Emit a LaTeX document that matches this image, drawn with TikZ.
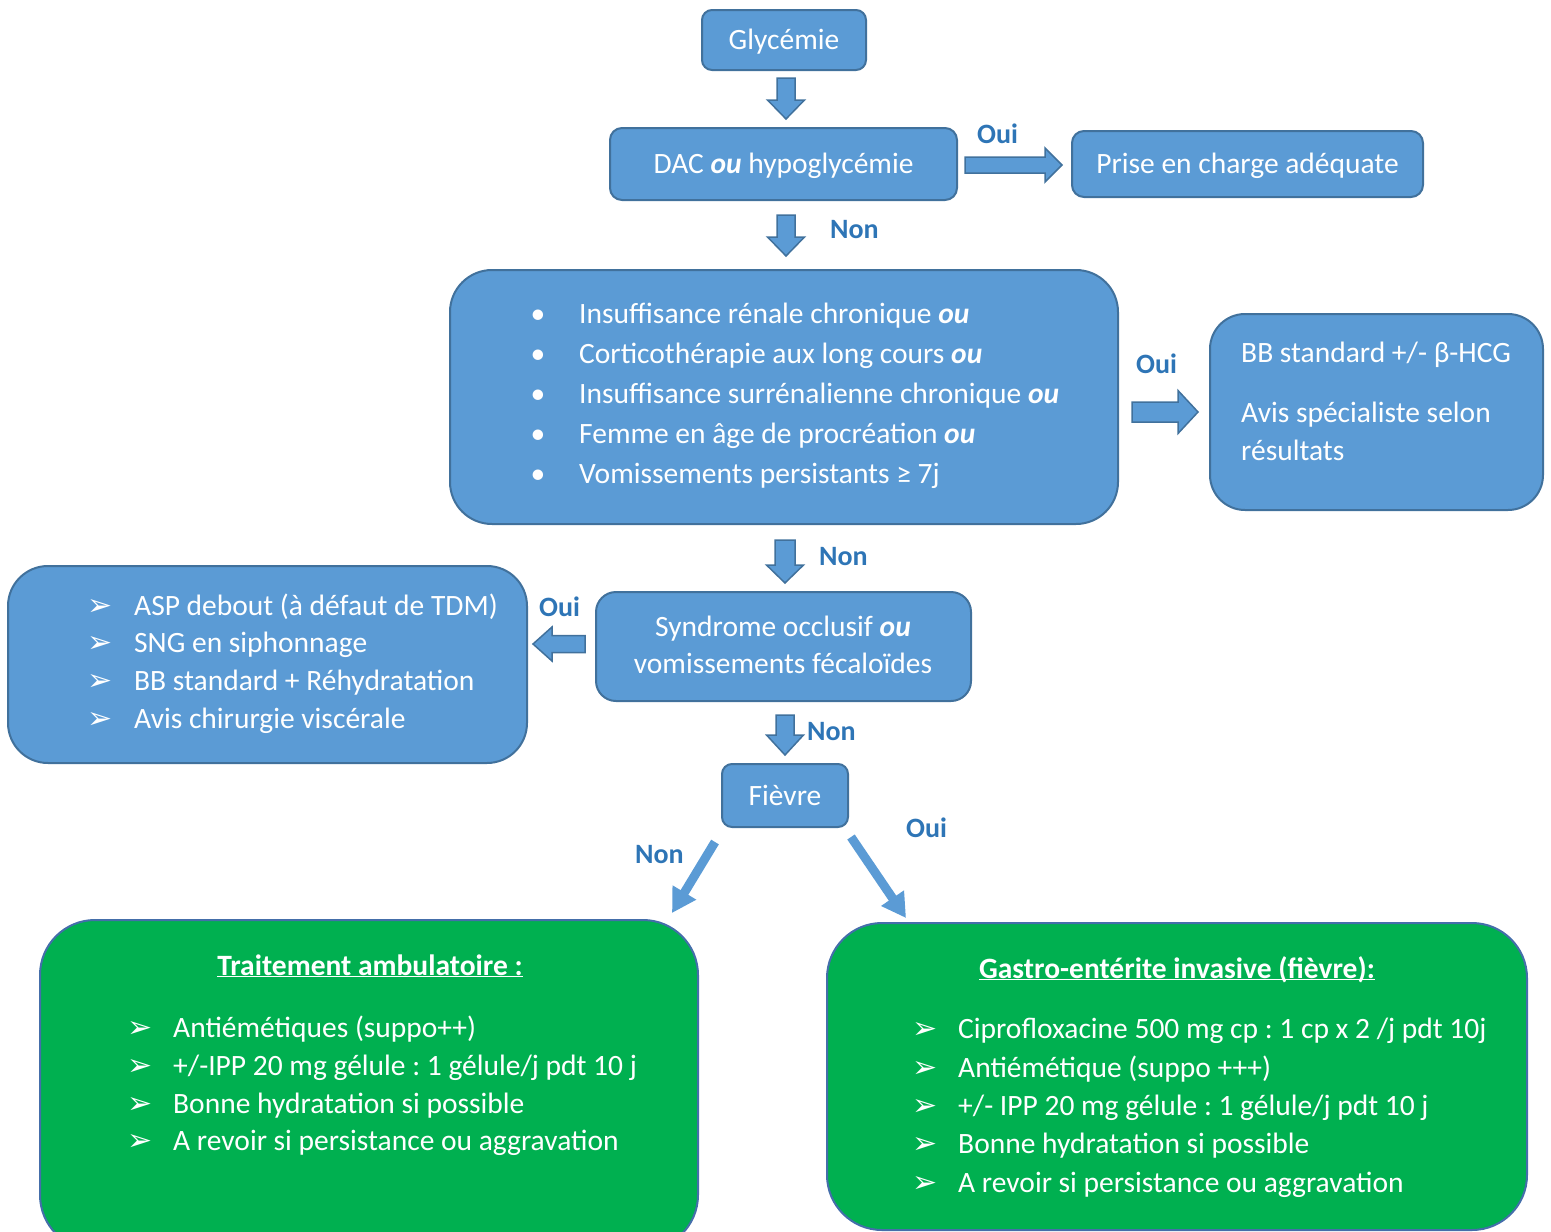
\documentclass[tikz,border=0pt]{standalone}
\usepackage{fontspec}
\setmainfont{Carlito}
\newfontfamily\dejavu{DejaVu Sans}
\usetikzlibrary{arrows.meta}
\definecolor{boxblue}{RGB}{91,155,213}
\definecolor{boxborder}{RGB}{65,113,156}
\definecolor{boxgreen}{RGB}{0,176,80}
\definecolor{greenborder}{RGB}{68,110,170}
\definecolor{lblblue}{RGB}{46,117,182}
\frenchspacing
\newcommand\mainsz{\fontsize{29.5}{35}\selectfont}
\newcommand\lblsz{\fontsize{28}{34}\selectfont\bfseries}
\newcommand\arrsz{\dejavu\fontsize{30}{34}\selectfont}
\newcommand\ouit{\textbf{\textit{ou}}}
\newcommand\ulbf[1]{\underline{\smash{\textbf{#1}}}}
\tikzset{
  pics/blk/.style args={#1/#2/#3/#4}{code={
    \path[blkarrow] (0,-#2) -- ({#1-#4},-#2) -- ({#1-#4},-#3) -- (#1,0)
      -- ({#1-#4},#3) -- ({#1-#4},#2) -- (0,#2) -- cycle;}},
}
\begin{document}
\begin{tikzpicture}[x=1pt,y=-1pt,
  bluebox/.style={draw=boxborder, fill=boxblue, line width=2pt, rounded corners=#1, inner sep=0pt, text=white, font=\mainsz, text height=25pt, text depth=6pt},
  bluebox/.default=10pt,
  greenbox/.style={draw=greenborder, fill=boxgreen, line width=2pt, rounded corners=55pt, inner sep=0pt},
  txt/.style={anchor=base west, inner sep=0pt, text=white, font=\mainsz},
  ctxt/.style={anchor=base, inner sep=0pt, text=white, font=\mainsz},
  lbl/.style={anchor=base west, inner sep=0pt, text=lblblue, font=\lblsz},
  mk/.style={anchor=base west, inner sep=0pt, text=white, font=\arrsz},
  blkarrow/.style={fill=boxblue, draw=boxborder, line width=1.5pt, line join=miter},
  thinarrow/.style={draw=boxblue, line width=9pt, -{Triangle[width=26pt,length=24pt]}},
]
\useasboundingbox (0,0) rectangle (1551,1232);
\clip (0,0) rectangle (1551,1232);

% boxes
\node[bluebox=10pt, minimum width=164pt, minimum height=60pt] (glyc) at (784,40) {Glycémie};
\node[bluebox=12pt, minimum width=347pt, minimum height=72pt] (dac) at (783.5,164) {DAC \ouit\ hypoglycémie};
\node[bluebox=12pt, minimum width=351pt, minimum height=66pt] (prise) at (1247.5,164) {Prise en charge adéquate};
\node[bluebox=42pt, minimum width=668pt, minimum height=254pt] (crit) at (784,397) {};
\node[bluebox=35pt, minimum width=333pt, minimum height=196pt] (bb) at (1376.5,412) {};
\node[bluebox=20pt, minimum width=375pt, minimum height=109pt] (synd) at (783.5,646.5) {};
\node[bluebox=40pt, minimum width=519pt, minimum height=197pt] (asp) at (267.5,664.5) {};
\node[bluebox=10pt, minimum width=126pt, minimum height=63pt] (fievre) at (785,795.5) {Fièvre};
\node[greenbox, minimum width=658pt, minimum height=330pt] (amb) at (369,1085) {};
\node[greenbox, minimum width=700pt, minimum height=307pt] (gastro) at (1177,1076.5) {};

% criteria list
\foreach \y/\t [count=\i] in {323/{Insuffisance rénale chronique \ouit},
  363/{Corticothérapie aux long cours \ouit},
  403/{Insuffisance surrénalienne chronique \ouit},
  443/{Femme en âge de procréation \ouit},
  483/{Vomissements persistants ≥ 7j}}{
  \node[ctxt] (cb\i) at (538,\y) {•};
  \node[txt] (ct\i) at (579,\y) {\t};
}

% BB box text
\node[txt] (bb1) at (1241,362) {BB standard +/- β-HCG};
\node[txt] (bb2) at (1241,422) {Avis spécialiste selon};
\node[txt] (bb3) at (1241,460) {résultats};

% syndrome text
\node[ctxt] (sy1) at (783,636) {Syndrome occlusif \ouit};
\node[ctxt] (sy2) at (783,673) {vomissements fécaloïdes};

% ASP list
\foreach \y/\t [count=\i] in {615/{ASP debout (à défaut de TDM)},
  652/{SNG en siphonnage},
  690/{BB standard + Réhydratation},
  728/{Avis chirurgie viscérale}}{
  \node[mk] (am\i) at (87,\y) {➢};
  \node[txt] (at\i) at (134,\y) {\t};
}

% green boxes text
\node[ctxt] (ambt) at (370,975) {\ulbf{Traitement ambulatoire :}};
\foreach \y/\t [count=\i] in {1037/{Antiémétiques (suppo++)},
  1075/{+/-IPP 20 mg gélule : 1 gélule/j pdt 10 j},
  1113/{Bonne hydratation si possible},
  1150/{A revoir si persistance ou aggravation}}{
  \node[mk] (bm\i) at (127,\y) {➢};
  \node[txt] (bt\i) at (173,\y) {\t};
}
\node[ctxt] (gast) at (1177,978) {\ulbf{Gastro-entérite invasive (fièvre):}};
\foreach \y/\t [count=\i] in {1038/{Ciprofloxacine 500 mg cp : 1 cp x 2 /j pdt 10j},
  1077/{Antiémétique (suppo +++)},
  1115/{+/- IPP 20 mg gélule : 1 gélule/j pdt 10 j},
  1153/{Bonne hydratation si possible},
  1192/{A revoir si persistance ou aggravation}}{
  \node[mk] (gm\i) at (912,\y) {➢};
  \node[txt] (gt\i) at (958,\y) {\t};
}

% block arrows
\pic[rotate=-90] at (786,78) {blk=41/9/18.5/19};
\pic at (965,165) {blk=97/8/17/17};
\pic[rotate=-90] at (786,215) {blk=41/9/18.5/19};
\pic at (1132,412) {blk=66/10/21.5/20};
\pic[rotate=-90] at (785,540) {blk=43/10/18.5/18};
\pic[rotate=180] at (585,644) {blk=52/8.5/17/19};
\pic[rotate=-90] at (785,715) {blk=40/9/18.5/20};

% thin diagonal arrows
\coordinate (n1) at (715,842);
\coordinate (n2) at (672,913);
\coordinate (o1) at (851,837);
\coordinate (o2) at (906,918);
\draw[thinarrow] (n1) -- (n2);
\draw[thinarrow] (o1) -- (o2);

% labels
\node[lbl] (l1) at (977,143) {Oui};
\node[lbl] (l2) at (830,238) {Non};
\node[lbl] (l3) at (1136,373) {Oui};
\node[lbl] (l4) at (819,565) {Non};
\node[lbl] (l5) at (539,616) {Oui};
\node[lbl] (l6) at (807,740) {Non};
\node[lbl] (l7) at (635,863) {Non};
\node[lbl] (l8) at (906,837) {Oui};
\end{tikzpicture}
\end{document}
